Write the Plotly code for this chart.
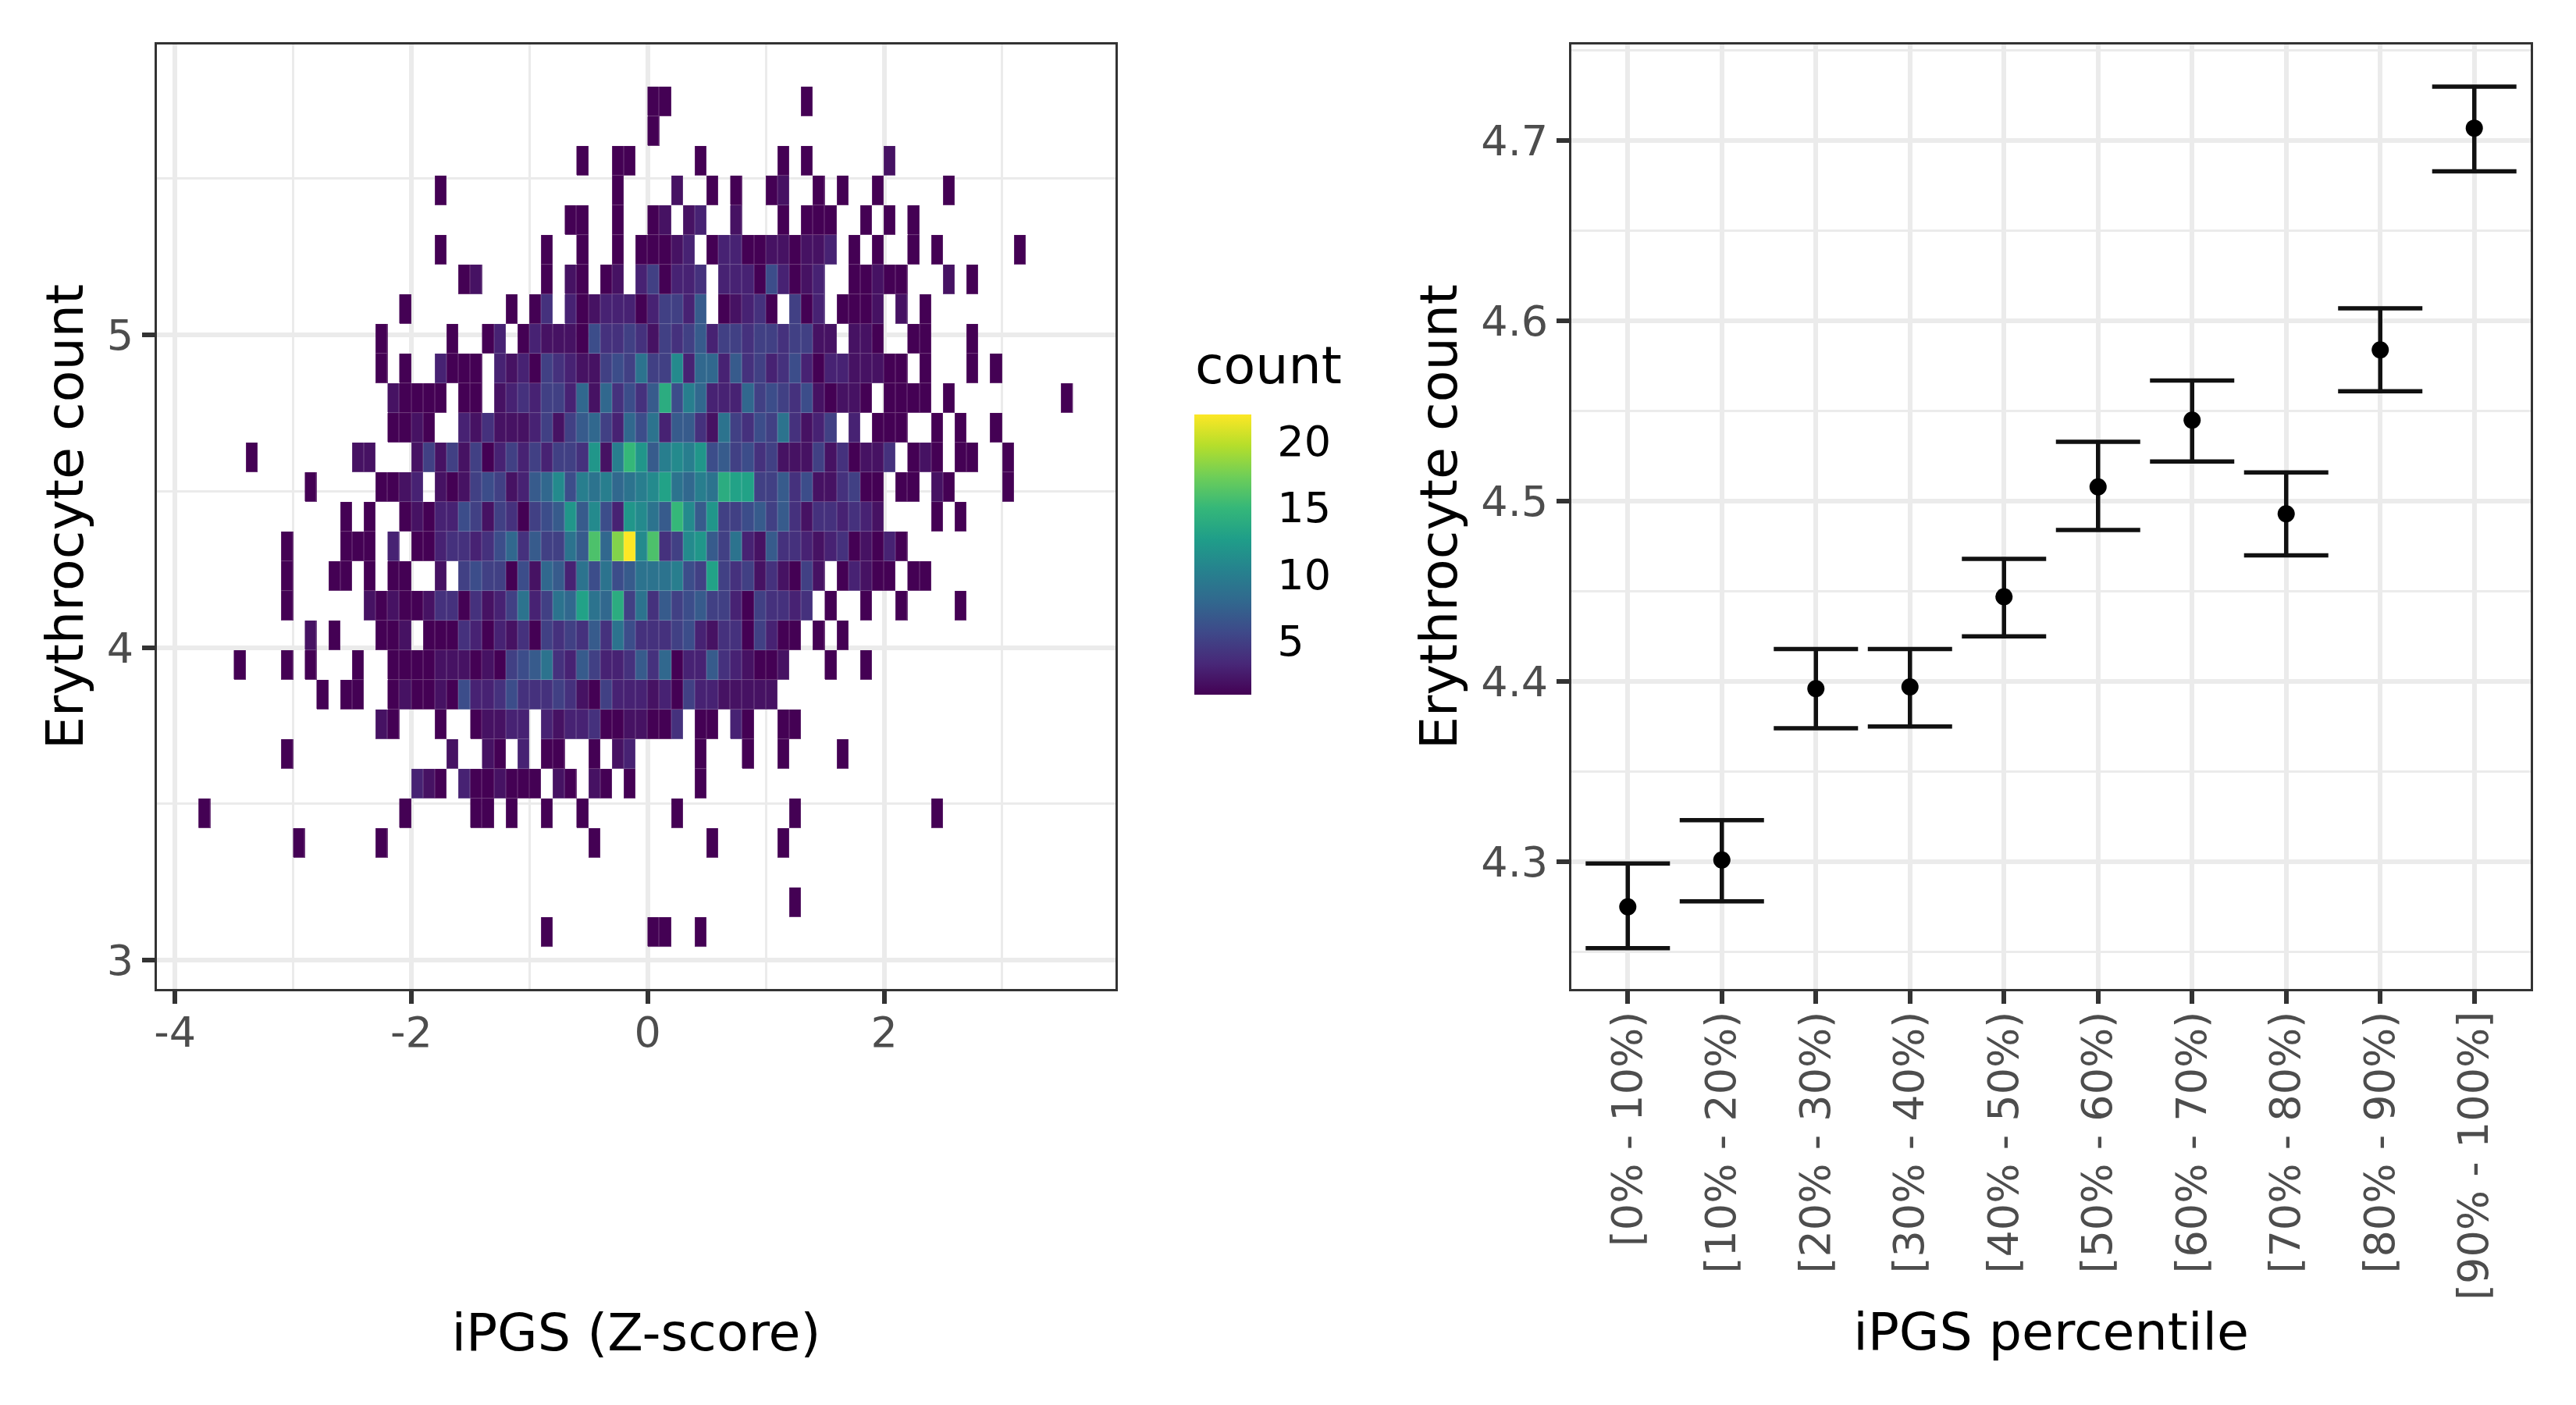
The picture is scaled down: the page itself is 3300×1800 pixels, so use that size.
import plotly.graph_objects as go

W, H = 3300, 1800

# Left panel: 2-D histogram counts, one dict per row, top row first. Keys are column numbers
# (column i covers x from i/10 to (i+1)/10).
row_00 = {0:1,1:1,13:1}
row_01 = {0:1}
row_02 = {-6:1,-3:1,-2:1,4:1,11:1,13:1,20:2}
row_03 = {-18:1,-3:1,2:2,5:1,7:1,10:1,11:2,14:1,16:1,19:1,25:1}
row_04 = {-7:1,-6:1,-3:1,0:1,1:2,3:2,4:3,7:2,11:1,13:1,14:1,15:1,18:1,20:1,22:1}
row_05 = {-18:1,-9:1,-6:1,-3:1,-1:1,0:1,1:1,2:2,3:3,5:1,6:3,7:3,8:1,9:1,10:2,11:2,12:1,13:2,14:2,15:3,17:1,19:1,22:1,24:1,31:1}
row_06 = {-16:1,-15:2,-9:1,-7:2,-6:1,-4:1,-3:2,-1:3,0:5,1:1,2:3,3:3,4:4,6:3,7:3,8:3,9:1,10:6,11:3,12:1,13:2,14:3,17:1,18:1,19:2,20:1,21:1,25:2,27:1}
row_07 = {-21:1,-12:1,-10:1,-9:4,-7:3,-6:1,-5:2,-4:3,-3:3,-2:3,-1:1,0:3,1:5,2:5,3:3,4:7,6:1,7:2,8:3,9:4,10:1,12:5,13:1,14:3,16:1,17:1,18:1,19:2,21:2,23:1}
row_08 = {-23:1,-17:1,-14:1,-13:3,-11:1,-10:3,-9:2,-8:2,-7:2,-6:1,-5:6,-4:4,-3:4,-2:5,-1:4,0:2,1:5,2:4,3:5,4:7,5:3,6:5,7:5,8:4,9:5,10:5,11:4,12:5,13:5,14:2,15:2,17:2,18:2,19:1,22:1,23:1,27:1}
row_09 = {-23:1,-21:1,-18:3,-17:1,-16:1,-15:1,-13:3,-12:2,-11:3,-10:1,-9:5,-8:4,-7:3,-6:2,-5:2,-4:5,-3:6,-2:5,-1:9,0:5,1:5,2:11,3:3,4:8,5:8,6:3,7:7,8:4,9:5,10:3,11:4,12:6,13:3,14:1,15:3,16:3,17:2,18:2,19:2,20:1,21:1,23:1,27:1,29:1}
row_10 = {-22:2,-21:1,-20:1,-19:1,-18:1,-16:1,-15:1,-13:2,-12:3,-11:4,-10:3,-9:5,-8:5,-7:3,-6:8,-5:2,-4:8,-3:4,-2:6,-1:4,0:7,1:14,2:6,3:10,4:8,5:3,6:3,7:3,8:8,9:5,10:6,11:5,12:4,13:6,14:2,15:1,16:2,17:2,18:1,20:1,21:1,22:1,23:1,25:1,35:1}
row_11 = {-22:1,-21:1,-20:2,-19:1,-16:3,-15:2,-14:4,-13:2,-12:2,-11:2,-10:3,-9:5,-8:2,-7:5,-6:7,-5:8,-4:5,-3:3,-2:8,-1:6,0:9,1:3,2:7,3:7,4:4,5:2,6:9,7:5,8:4,9:6,10:5,11:9,12:4,13:2,14:3,15:5,17:3,19:1,20:1,21:1,24:1,26:1,29:1}
row_12 = {-34:1,-25:2,-24:2,-20:2,-19:5,-18:2,-17:5,-16:2,-15:5,-14:1,-13:3,-12:5,-11:3,-10:5,-9:3,-8:5,-7:5,-6:4,-5:12,-4:2,-3:10,-2:15,-1:12,0:7,1:10,2:11,3:10,4:12,5:6,6:7,7:5,8:6,9:4,10:5,11:2,12:2,13:2,14:5,15:2,16:4,17:1,18:2,19:2,20:4,22:1,23:2,24:1,26:1,27:1,30:1}
row_13 = {-29:1,-23:1,-22:1,-21:2,-20:3,-18:2,-17:1,-16:2,-15:5,-14:6,-13:5,-12:2,-11:3,-10:7,-9:8,-8:11,-7:6,-6:10,-5:9,-4:10,-3:8,-2:9,-1:10,0:11,1:13,2:9,3:8,4:10,5:9,6:14,7:13,8:13,9:5,10:5,11:7,12:4,13:6,14:2,15:2,16:4,17:5,18:1,19:1,21:1,22:1,24:2,25:1,30:1}
row_14 = {-26:1,-24:1,-21:1,-20:2,-19:1,-18:3,-17:3,-16:6,-15:5,-14:2,-13:5,-12:4,-11:1,-10:5,-9:6,-8:7,-7:12,-6:7,-5:11,-4:6,-3:3,-2:12,-1:11,0:9,1:7,2:15,3:11,4:7,5:12,6:5,7:5,8:6,9:7,10:5,11:7,12:4,13:2,14:4,15:4,16:3,17:4,18:3,19:2,24:1,26:1}
row_15 = {-31:1,-26:1,-25:1,-24:1,-22:3,-20:1,-19:1,-18:3,-17:4,-16:4,-15:3,-14:4,-13:6,-12:8,-11:4,-10:7,-9:5,-8:5,-7:9,-6:7,-5:16,-4:8,-3:18,-2:22,-1:11,0:16,1:4,2:5,3:11,4:12,5:7,6:5,7:9,8:3,9:2,10:7,11:4,12:4,13:3,14:2,15:3,16:4,17:1,18:2,19:1,20:3,21:1}
row_16 = {-31:1,-27:1,-26:1,-24:1,-22:1,-21:1,-18:2,-16:5,-15:6,-14:5,-13:5,-12:1,-11:6,-10:2,-9:8,-8:7,-7:3,-6:9,-5:6,-4:9,-3:6,-2:7,-1:9,0:9,1:9,2:10,3:6,4:5,5:13,6:5,7:4,8:5,9:2,10:4,11:2,12:1,13:5,14:2,16:1,17:3,18:2,19:1,20:1,22:1,23:1}
row_17 = {-31:1,-24:2,-23:1,-22:2,-21:1,-20:1,-19:2,-18:4,-17:4,-16:1,-15:4,-14:2,-13:3,-12:5,-11:9,-10:3,-9:5,-8:9,-7:8,-6:13,-5:9,-4:8,-3:14,-2:5,-1:9,0:4,1:7,2:5,3:6,4:7,5:5,6:5,7:3,8:1,9:5,10:4,11:4,12:3,13:4,15:1,18:1,21:1,26:1}
row_18 = {-29:2,-27:1,-23:1,-22:1,-21:2,-19:1,-18:1,-17:1,-16:4,-15:3,-14:1,-13:3,-12:2,-11:4,-10:1,-9:5,-8:4,-7:5,-6:4,-5:7,-4:4,-3:9,-2:6,-1:4,0:4,1:4,2:5,3:6,4:3,5:2,6:4,7:4,8:1,9:5,10:3,11:1,12:1,14:1,16:1}
row_19 = {-35:1,-31:1,-29:1,-25:1,-22:1,-21:1,-20:1,-19:1,-18:2,-17:2,-16:2,-15:1,-14:2,-13:1,-12:5,-11:6,-10:7,-9:9,-8:4,-7:3,-6:7,-5:5,-4:3,-3:3,-2:4,-1:7,0:4,1:8,2:1,3:3,4:3,5:7,6:4,7:3,8:2,9:1,10:1,11:2,15:1,18:1}
row_20 = {-28:1,-26:1,-25:1,-22:1,-21:2,-20:1,-19:1,-18:2,-17:1,-16:6,-15:3,-14:3,-13:4,-12:6,-11:4,-10:4,-9:4,-8:5,-7:4,-6:2,-5:1,-4:5,-3:3,-2:3,-1:3,0:2,1:3,2:1,3:5,4:3,5:3,6:2,7:2,8:2,9:2,10:2}
row_21 = {-23:2,-22:1,-18:1,-15:1,-14:2,-13:2,-12:3,-11:3,-9:3,-8:2,-7:3,-6:3,-5:4,-4:1,-3:1,-2:2,-1:2,0:1,1:1,2:4,4:1,5:1,7:3,8:1,11:1,12:1}
row_22 = {-31:1,-17:2,-14:2,-13:1,-11:3,-9:1,-8:1,-5:1,-3:2,-2:3,4:1,8:1,11:1,16:1}
row_23 = {-20:3,-19:2,-18:1,-16:3,-15:1,-14:1,-13:2,-12:1,-11:1,-10:1,-8:2,-7:1,-5:2,-4:1,-2:1,4:1}
row_24 = {-38:1,-21:1,-15:1,-14:1,-12:1,-9:1,-6:1,2:1,12:1,24:1}
row_25 = {-30:1,-23:1,-5:1,5:1,11:1}
row_26 = {}
row_27 = {12:1}
row_28 = {-9:1,0:1,1:1,4:1}
rows_top_down = [row_00,row_01,row_02,row_03,row_04,row_05,row_06,row_07,row_08,row_09,
                 row_10,row_11,row_12,row_13,row_14,row_15,row_16,row_17,row_18,row_19,
                 row_20,row_21,row_22,row_23,row_24,row_25,row_26,row_27,row_28]

# Histogram bins
col_first, col_last = -38, 35
x_bin_width = 0.1
y_top_edge = 5.794
y_bin_height = 0.0949

# Right panel
percentile_labels = ["[0% - 10%)","[10% - 20%)","[20% - 30%)","[30% - 40%)","[40% - 50%)",
                     "[50% - 60%)","[60% - 70%)","[70% - 80%)","[80% - 90%)","[90% - 100%]"]
mean_count = [4.275,4.301,4.396,4.397,4.447,4.508,4.545,4.493,4.584,4.707]
ci_low     = [4.252,4.278,4.374,4.375,4.425,4.484,4.522,4.470,4.561,4.683]
ci_high    = [4.299,4.323,4.418,4.418,4.468,4.533,4.567,4.516,4.607,4.730]
overall_mean = 4.465

# Axes and legend values
left_x_ticks = [-4,-2,0,2]
left_x_labels = ["-4","-2","0","2"]
left_y_ticks = [3,4,5]
right_y_ticks = [4.3,4.4,4.5,4.6,4.7]
count_ticks = [5,10,15,20]
count_min, count_max = 1, 22

FONT = "DejaVu Sans"
TITLE_SIZE, TICK_SIZE = 66.6, 54
GRID, BORDER, TICKTXT = "#EBEBEB", "#333333", "#4D4D4D"

cols = list(range(col_first, col_last + 1))
x_edges = [round(c * x_bin_width, 3) for c in range(col_first, col_last + 2)]
n_rows = len(rows_top_down)
y_edges = [y_top_edge - y_bin_height * (n_rows - k) for k in range(n_rows + 1)]
z = [[r.get(c) for c in cols] for r in reversed(rows_top_down)]

def panel(l, r):
    return [l / W, r / W]
y_dom = [1 - 1267 / H, 1 - 57 / H]

def bar_cfg(x_px, thick, **kw):
    return dict(x=x_px / W, xanchor="left", xpad=0, y=1 - 530.7 / H, yanchor="top", ypad=0,
                len=359.3, lenmode="pixels", thickness=thick, thicknessmode="pixels",
                outlinewidth=0, tickvals=count_ticks, **kw)

# Two translucent layers under the gapped main layer give each cell its pale hairline edge,
# and their colour axes supply the colour bar's white tick marks on both edges.
fig = go.Figure()
for axis, alpha, gap in (("coloraxis2", 0.5, 0), ("coloraxis3", 0.5, 0), ("coloraxis", 1, 1)):
    fig.add_trace(go.Heatmap(x=x_edges, y=y_edges, z=z, coloraxis=axis, opacity=alpha, xgap=gap, ygap=gap,
                             hoverongaps=False, xaxis="x", yaxis="y"))

fig.add_trace(go.Scatter(
    x=[-0.6, 9.6], y=[overall_mean, overall_mean],
    mode="lines", xaxis="x2", yaxis="y2", showlegend=False,
    line=dict(color="#BEBEBE", width=3)))
fig.add_trace(go.Scatter(
    x=percentile_labels, y=mean_count, mode="markers", xaxis="x2", yaxis="y2",
    marker=dict(color="black", size=22),
    error_y=dict(type="data", symmetric=False,
                 array=[h - m for h, m in zip(ci_high, mean_count)],
                 arrayminus=[m - l for m, l in zip(mean_count, ci_low)],
                 color="#111111", thickness=5.5, width=54),
    showlegend=False))

common = dict(showline=True, mirror=True, linecolor=BORDER, linewidth=3, zeroline=False,
              ticks="outside", ticklen=16, tickwidth=6, tickcolor=BORDER,
              tickfont=dict(family=FONT, size=TICK_SIZE, color=TICKTXT),
              gridcolor=GRID, gridwidth=6, showgrid=True)
tfont = dict(family=FONT, size=TITLE_SIZE, color="black")
inner_ticks = dict(ticks="inside", ticklen=15, tickcolor="white", tickwidth=2, showticklabels=False)
scale = dict(colorscale="Viridis", cmin=count_min, cmax=count_max)

fig.update_layout(
    width=W, height=H, margin=dict(l=0, r=0, t=0, b=0, autoexpand=False),
    paper_bgcolor="white", plot_bgcolor="white", font=dict(family=FONT),
    xaxis=dict(domain=panel(201, 1429), range=[-4.153, 3.958], tickvals=left_x_ticks, ticktext=left_x_labels,
               anchor="y", ticklabelstandoff=-10, title=dict(text="iPGS (Z-score)", font=tfont, standoff=331),
               minor=dict(dtick=1, tick0=-3, showgrid=True, gridcolor=GRID, gridwidth=3, ticks=""),
               **common),
    yaxis=dict(domain=y_dom, range=[2.908, 5.929], tickvals=left_y_ticks, anchor="x",
               title=dict(text="Erythrocyte count", font=tfont, standoff=9),
               minor=dict(dtick=1, tick0=3.5, showgrid=True, gridcolor=GRID, gridwidth=3, ticks=""),
               **common),
    xaxis2=dict(domain=panel(2013, 3242), type="category", categoryorder="array",
                categoryarray=percentile_labels, range=[-0.6, 9.6], tickangle=-90, anchor="y2",
                ticklabelstandoff=-12,
                title=dict(text="iPGS percentile", font=tfont, standoff=18), **common),
    yaxis2=dict(domain=y_dom, range=[4.2294, 4.7534], tickvals=right_y_ticks, tickformat=".1f", anchor="x2",
                title=dict(text="Erythrocyte count", font=tfont, standoff=9),
                minor=dict(dtick=0.1, tick0=4.25, showgrid=True, gridcolor=GRID, gridwidth=3, ticks=""),
                **common),
    coloraxis=dict(**scale, colorbar=bar_cfg(1530, 72.7, ticks="outside", ticklen=23, tickcolor="rgba(0,0,0,0)",
                                             tickfont=dict(family=FONT, size=TICK_SIZE, color="black"))),
    coloraxis2=dict(**scale, colorbar=bar_cfg(1530, 15, **inner_ticks)),
    coloraxis3=dict(**scale, colorbar=bar_cfg(1587.7, 15, **inner_ticks)),
    annotations=[dict(text="count", xref="paper", yref="paper", x=1529 / W, y=1 - 468 / H,
                      xanchor="left", yanchor="middle", showarrow=False, font=tfont)],
)
fig.write_html("out.html", config=dict(displayModeBar=False),
               post_script="document.body.style.margin='0';")
